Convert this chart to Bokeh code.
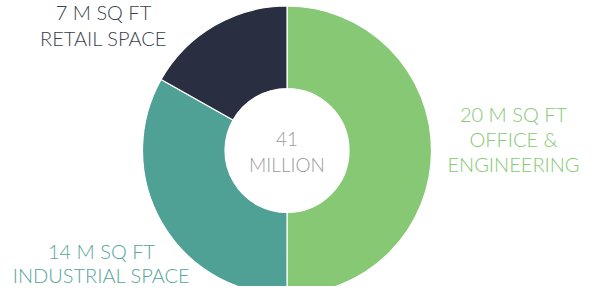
import numpy as np
from bokeh.plotting import figure
from bokeh.models import Range1d, ColumnDataSource
from bokeh.core.properties import value
from bokeh.embed import file_html
from bokeh.resources import INLINE

# Data (slice sizes, labels as printed)
categories = ["Office & Engineering", "Industrial Space", "Retail Space"]
values = [20.5, 13.6, 6.9]
colors = ["#86C873", "#50A195", "#292E41"]
label_lines = [
    ["20 M SQ FT", "OFFICE &", "ENGINEERING"],
    ["14 M SQ FT", "INDUSTRIAL SPACE"],
    ["7 M SQ FT", "RETAIL SPACE"],
]
label_colors = ["#86C873", "#56A59A", "#3A3E4B"]
center_lines = ["41", "MILLION"]

W, H = 586, 286
p = figure(width=W, height=H, output_backend="svg", toolbar_location=None,
           x_range=Range1d(8, 8 + W), y_range=Range1d(302 - 8 - H, 302 - 8),
           min_border=0, outline_line_color=None)
p.axis.visible = False
p.grid.visible = False
p.background_fill_color = "white"
p.border_fill_color = "white"

cx, cy = 294.5, 302 - 158
vals = np.array(values, dtype=float)
frac = vals / vals.sum()
cum = np.concatenate([[0.0], np.cumsum(frac)])
start = np.pi / 2 - 2 * np.pi * cum[:-1]
end = np.pi / 2 - 2 * np.pi * cum[1:]

src = ColumnDataSource(dict(x=[cx] * len(vals), y=[cy] * len(vals),
                            start=start, end=end, color=colors, cat=categories))
p.annular_wedge(x="x", y="y", inner_radius=62, outer_radius=144.5,
                inner_radius_units="screen", outer_radius_units="screen",
                start_angle="start", end_angle="end", direction="clock",
                fill_color="color", line_color="white", line_width=1.2, source=src)

font = value("Lato Light, Lato")
# label anchor positions (x, y of first line) in page pixels
anchors = [(521, 121), (109, 258), (111, 19)]
lhs = [25, 24, 26]
for lines, col, (ax, ay), lh in zip(label_lines, label_colors, anchors, lhs):
    ys = [302 - (ay + i * lh) for i in range(len(lines))]
    p.text(x=[ax] * len(lines), y=ys, text=lines, text_align="center",
           text_baseline="alphabetic", text_font=font, text_font_size="20px",
           text_color=col)

p.text(x=[cx, cx], y=[302 - 146, 302 - 172], text=center_lines, text_align="center",
       text_baseline="alphabetic", text_font=font, text_font_size="19px",
       text_color="#9B9B9B")

open("out.html", "w").write(file_html(p, INLINE))
